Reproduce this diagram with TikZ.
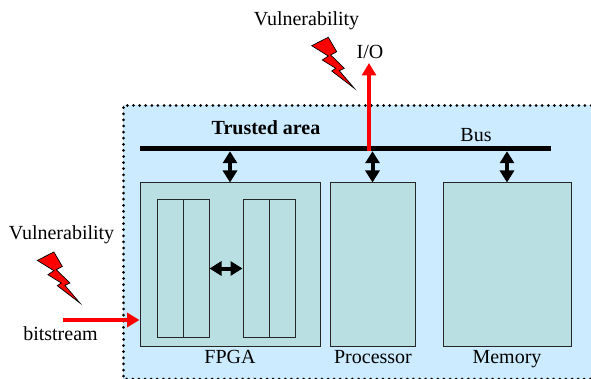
\documentclass[tikz,border=0pt]{standalone}
\usepackage{fontspec}
\setmainfont{Liberation Serif}
\usetikzlibrary{arrows.meta}
\definecolor{areablue}{HTML}{CCEBFF}
\definecolor{boxteal}{HTML}{B9DFE2}
\begin{document}
\begin{tikzpicture}[x=1pt,y=-1pt,
  label/.style={font=\fontsize{20}{24}\selectfont,inner sep=0pt,anchor=base},
  box/.style={draw=black!85,fill=boxteal,line width=1pt,inner sep=0pt,minimum height=163pt},
  cell/.style={draw=black!85,fill=boxteal,line width=1pt,inner sep=0pt,minimum width=26pt,minimum height=137pt},
  both/.style={{Triangle[length=12pt,width=14pt]}-{Triangle[length=12pt,width=14pt]},line width=4pt},
  attack/.style={-{Triangle[length=12.5pt,width=14pt]},red,line width=4.5pt},
  bolt/.pic={\draw[fill=red,line width=.7pt,line join=miter] (311.7,45.7) -- (328.3,37.3) -- (336.7,51.7) -- (330.7,55) -- (344.3,68.3) -- (339.3,70.7) -- (354.3,88.3) -- (331.7,71) -- (335.7,68.3) -- (322.3,60) -- (328.3,56) -- cycle;}]
\useasboundingbox (0,0) rectangle (591,379);
\fill[areablue] (123,105) rectangle (591,379);
\draw[line width=3pt,dash pattern=on 0pt off 6.1pt,line cap=round] (591,105.5) -- (123.5,105.5) -- (123.5,379) -- (591,379);

\node[fill=black,inner sep=0pt,minimum width=411pt,minimum height=5pt] (bus) at (345.5,148.5) {};
\node[box,minimum width=180pt] (fpga) at (230,264.5) {};
\node[box,minimum width=85pt] (proc) at (372.5,264.5) {};
\node[box,minimum width=128pt] (mem) at (507,264.5) {};
\node[cell] (a1) at (170,268.5) {};
\node[cell] (a2) at (196,268.5) {};
\node[cell] (b1) at (256,268.5) {};
\node[cell] (b2) at (282,268.5) {};

\node[label] (vul1) at (306.5,26) {Vulnerability};
\node[label] (io) at (370,59) {I/O};
\node[label] (vul2) at (61.5,240) {Vulnerability};
\node[label] (bits) at (60.5,340.5) {bitstream};
\node[label,font=\fontsize{20}{24}\selectfont\bfseries] (area) at (266,135) {Trusted area};
\node[label] (busname) at (476,142) {Bus};
\node[label] (fpganame) at (230,363) {FPGA};
\node[label] (procname) at (373,363) {Processor};
\node[label] (memname) at (507,363) {Memory};
\coordinate (bitstart) at (63,320);
\coordinate (iotip) at (369,63);

\draw[both] (fpga.north |- bus.south) -- (fpga.north);
\draw[both] (proc.north |- bus.south) -- (proc.north);
\draw[both] (mem.north |- bus.south) -- (mem.north);
\draw[both] (a2.east) -- (b1.west);
\draw[attack] (iotip |- bus.south) -- (iotip);
\draw[attack] (bitstart) -- (fpga.west |- bitstart);

\pic at (0,0) {bolt};
\pic at (-274.4,214.7) {bolt};
\end{tikzpicture}
\end{document}
